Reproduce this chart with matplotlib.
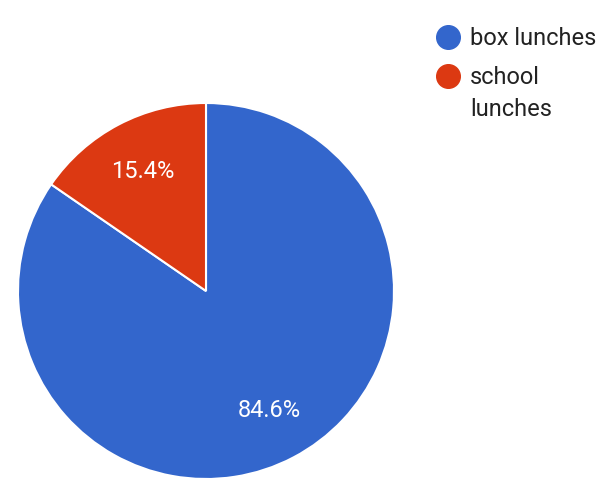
import matplotlib.pyplot as plt
from matplotlib.lines import Line2D

labels = ["box lunches", "school lunches"]
legend_text = ["box lunches", "school\nlunches"]
shares = [84.6, 15.4]
colors = ["#3366CC", "#DC3912"]

plt.rcParams["font.family"] = ["Roboto", "DejaVu Sans"]

W, H = 600, 491
fig = plt.figure(figsize=(W / 100, H / 100), dpi=100)
fig.patch.set_facecolor("white")

# pie centred at (206, 291) px, radius 188 px
cx, cy, r = 206, 291, 188
ax = fig.add_axes([(cx - r) / W, (H - cy - r) / H, 2 * r / W, 2 * r / H])
wedges, texts, autotexts = ax.pie(
    shares, colors=colors, startangle=90, counterclock=False,
    autopct="%.1f%%", pctdistance=0.72, radius=1,
    wedgeprops=dict(edgecolor="white", linewidth=1.5),
    textprops=dict(color="white", fontsize=17),
)
ax.set_xlim(-1, 1)
ax.set_ylim(-1, 1)
ax.set_aspect("equal")
ax.axis("off")

# legend drawn by hand so the marker sits on the first text line
leg_y = [37, 76]
for txt, col, y in zip(legend_text, colors, leg_y):
    fig.add_artist(Line2D([448 / W], [1 - y / H], marker="o", markersize=17,
                          color=col, linestyle="none", transform=fig.transFigure))
    fig.text(470 / W, 1 - (y - 10) / H, txt, fontsize=17, color="#222222",
             ha="left", va="top", linespacing=1.5)

fig.savefig("out.png", dpi=100)
